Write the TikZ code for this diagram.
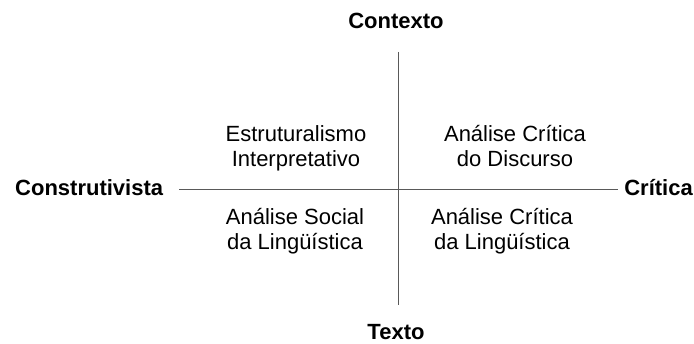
\documentclass[tikz,border=0pt]{standalone}
\usepackage{fontspec}
\setmainfont{Liberation Sans}
\begin{document}
\begin{tikzpicture}[x=1pt,y=-1pt,
  axis/.style={draw=black!65,line width=0.9pt},
  pole/.style={font=\fontsize{22}{25}\selectfont\bfseries,inner sep=0pt,anchor=base},
  quad/.style={font=\fontsize{22}{25}\selectfont,inner sep=0pt,anchor=base,align=center}]
\useasboundingbox (0,0) rectangle (694,344);
\coordinate (top) at (398,52);
\coordinate (bot) at (398,305);
\coordinate (lft) at (179,189);
\coordinate (rgt) at (618,189);
\draw[axis] (top) -- (bot);
\draw[axis] (lft) -- (rgt);
\node[pole] (ctx) at (396,29) {Contexto};
\node[pole] (txt) at (396,340) {Texto};
\node[pole,anchor=base west] (con) at (15,195.7) {Construtivista};
\node[pole,anchor=base east] (cri) at (693,195.7) {Crítica};
\node[quad] (q1) at (296,167) {Estruturalismo\\Interpretativo};
\node[quad] (q2) at (515,167) {Análise Crítica\\do Discurso};
\node[quad] (q3) at (295,250) {Análise Social\\da Lingüística};
\node[quad] (q4) at (502,250) {Análise Crítica\\da Lingüística};
\end{tikzpicture}
\end{document}
